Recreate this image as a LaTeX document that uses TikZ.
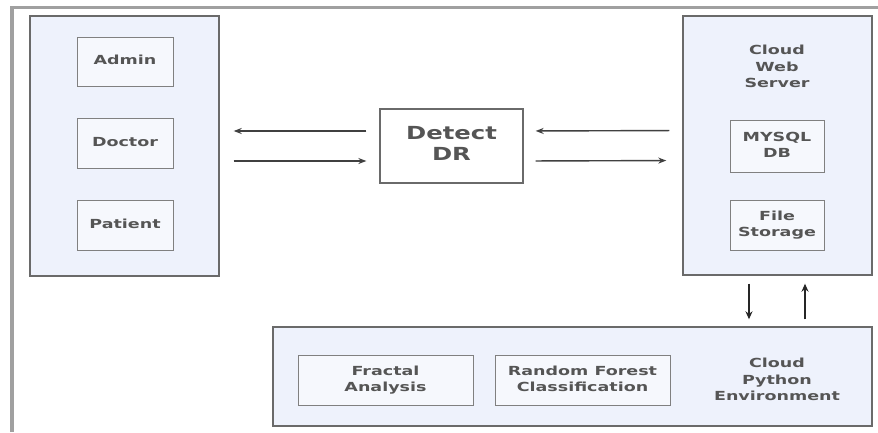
\documentclass[tikz,border=0pt]{standalone}
\usepackage{fontspec}
\setmainfont{DejaVu Sans}
\usepackage{graphicx}
\usetikzlibrary{arrows.meta}
\definecolor{contfill}{HTML}{EEF2FC}
\definecolor{innerfill}{HTML}{F6F8FD}
\definecolor{edgecol}{HTML}{6A6A6A}
\definecolor{txtcol}{HTML}{555555}
\definecolor{framecol}{HTML}{A0A0A0}
\newcommand{\wtxt}[1]{\scalebox{1.4}[1]{\bfseries\begin{tabular}{@{}c@{}}#1\end{tabular}}}
\newcommand{\wbig}[1]{\scalebox{1.35}[1]{\bfseries\begin{tabular}{@{}c@{}}#1\end{tabular}}}
\begin{document}
\begin{tikzpicture}[x=1pt,y=-1pt,
  container/.style={draw=edgecol, line width=1.4pt, fill=contfill, inner sep=0pt},
  ibox/.style={draw=edgecol!85, line width=1pt, fill=innerfill, inner sep=0pt,
    text=txtcol, font=\fontsize{12.5}{16.5}\selectfont},
  label text/.style={inner sep=0pt, text=txtcol, font=\fontsize{12.5}{16.5}\selectfont},
  drbox/.style={draw=edgecol, line width=1.3pt, fill=white, inner sep=0pt,
    text=txtcol, font=\fontsize{18}{21}\selectfont},
  harr/.style={-{Stealth[length=8pt,width=6pt]}, line width=1.4pt, draw=black!75},
  varr/.style={-{Stealth[length=8pt,width=7pt]}, line width=1.8pt, draw=black!85}]
\useasboundingbox (0,0) rectangle (878,432);
\fill[white] (0,0) rectangle (878,432);
% outer frame
\draw[framecol, line width=3.5pt] (12,432) -- (12,7.5) -- (878,7.5);

% left container
\node[container, minimum width=189pt, minimum height=260pt] (lb) at (124.5,146) {};
\node[ibox, minimum width=96pt, minimum height=49pt] (admin) at (125,61.5) {\wtxt{Admin}};
\node[ibox, minimum width=96pt, minimum height=50pt] (doctor) at (125,143) {\wtxt{Doctor}};
\node[ibox, minimum width=96pt, minimum height=50pt] (patient) at (125,225.5) {\wtxt{Patient}};

% detect DR
\node[drbox, minimum width=143pt, minimum height=74pt] (dr) at (451.5,146) {\wbig{Detect\\DR}};

% right container
\node[container, minimum width=189pt, minimum height=259pt] (ws) at (777.5,145.5) {};
\node[label text] (wstitle) at (777,68) {\wtxt{Cloud\\Web\\Server}};
\node[ibox, minimum width=94pt, minimum height=52pt] (mysql) at (777,146) {\wtxt{MYSQL\\DB}};
\node[ibox, minimum width=94pt, minimum height=50pt] (files) at (777,225) {\wtxt{File\\Storage}};

% bottom container
\node[container, minimum width=599pt, minimum height=99pt] (py) at (572.5,376.5) {};
\node[ibox, minimum width=175pt, minimum height=50pt] (fractal) at (385.5,380) {\wtxt{Fractal\\Analysis}};
\node[ibox, minimum width=175pt, minimum height=50pt] (rf) at (582.5,380) {\wtxt{Random Forest\\Classification}};
\node[label text] (pytitle) at (777,381) {\wtxt{Cloud\\Python\\Environment}};

% horizontal connectors
\draw[harr, shorten <=13pt, shorten >=14pt] ([yshift=15pt]dr.west) -- ([yshift=15pt]lb.east);
\draw[harr, shorten <=14pt, shorten >=13pt] ([yshift=-15pt]lb.east) -- ([yshift=-15pt]dr.west);
\draw[harr, shorten <=13pt, shorten >=12pt] ([yshift=15pt]ws.west) -- ([yshift=15pt]dr.east);
\draw[harr, shorten <=12pt, shorten >=16pt] ([yshift=-15pt]dr.east) -- ([yshift=-15pt]ws.west);

% vertical connectors
\draw[varr, shorten <=8pt, shorten >=7pt] ([xshift=-28.5pt]ws.south) -- ([xshift=-28.5pt]ws.south |- py.north);
\draw[varr, shorten <=7pt, shorten >=8pt] ([xshift=27.5pt]ws.south |- py.north) -- ([xshift=27.5pt]ws.south);
\end{tikzpicture}
\end{document}
